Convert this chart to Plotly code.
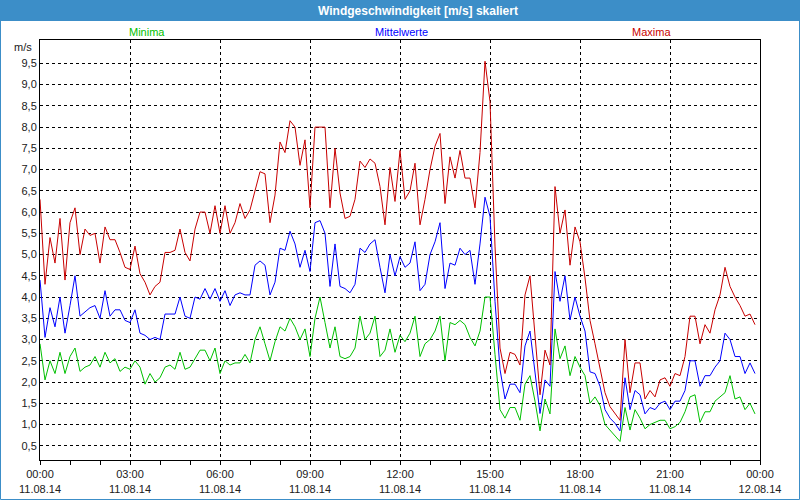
import plotly.graph_objects as go
import pandas as pd

maxima = [6.3, 4.3, 5.4, 4.8, 5.85, 4.4, 5.75, 6.1, 5.0, 5.6, 5.45, 5.5, 4.8, 5.65, 5.35, 5.35, 5.05, 4.7,
          4.65, 5.2, 4.55, 4.35, 4.05, 4.25, 4.35, 5.05, 5.05, 5.1, 5.6, 5.05, 4.85, 5.6, 6.0, 6.0, 5.5, 6.15,
          5.5, 6.15, 5.5, 5.75, 6.2, 5.85, 6.05, 6.5, 6.95, 6.9, 5.75, 6.4, 7.65, 7.4, 8.15, 8.0, 7.1, 7.7,
          6.1, 8.0, 8.0, 8.0, 6.1, 7.5, 6.45, 5.85, 5.9, 6.3, 7.2, 7.05, 7.25, 7.15, 6.6, 5.7, 7.05, 6.25,
          7.45, 6.3, 6.5, 7.15, 5.7, 6.3, 7.0, 7.55, 7.85, 6.2, 7.3, 6.8, 7.45, 6.8, 6.8, 6.1, 7.4, 9.55,
          8.6, 5.2, 2.8, 2.2, 2.7, 2.65, 2.4, 4.05, 4.5, 3.0, 1.7, 2.75, 2.4, 6.6, 5.5, 6.05, 4.75, 5.65,
          5.3, 4.45, 3.45, 2.9, 2.3, 1.75, 1.42, 1.26, 1.1, 3.0, 1.75, 2.45, 2.45, 1.6, 1.8, 1.65, 2.05, 2.1,
          1.9, 2.2, 2.15, 2.6, 3.55, 3.55, 2.9, 3.35, 3.15, 3.7, 4.05, 4.7, 4.25, 4.0, 3.8, 3.55, 3.6, 3.35]

mittel = [4.4, 3.05, 3.75, 3.3, 4.0, 3.15, 3.8, 4.5, 3.55, 3.65, 3.75, 3.8, 3.5, 4.15, 3.55, 3.7, 3.7, 3.45,
          3.4, 3.7, 3.15, 3.1, 3.0, 3.05, 3.0, 3.6, 3.6, 3.6, 4.0, 3.55, 3.5, 4.0, 3.95, 4.2, 3.95, 4.2,
          3.9, 4.15, 3.8, 4.05, 4.1, 4.05, 4.05, 4.75, 4.85, 4.75, 4.05, 4.35, 5.15, 5.1, 5.55, 5.25, 4.7, 5.1,
          4.6, 5.75, 5.8, 5.5, 4.25, 5.25, 4.25, 4.2, 4.1, 4.3, 5.15, 5.05, 5.25, 5.35, 4.7, 4.1, 5.0, 4.5,
          4.95, 4.7, 4.8, 5.3, 4.15, 4.3, 5.0, 5.3, 5.75, 4.2, 4.8, 4.75, 5.15, 5.0, 5.1, 4.3, 5.25, 6.35,
          5.9, 3.9, 2.3, 1.6, 1.95, 1.95, 1.75, 2.85, 3.2, 2.2, 1.26, 2.05, 1.9, 4.6, 3.9, 4.5, 3.46, 4.0,
          3.55, 3.2, 2.24, 2.2, 1.9, 1.35, 1.15, 1.03, 0.85, 2.1, 1.35, 1.8, 1.7, 1.25, 1.4, 1.35, 1.5, 1.55,
          1.35, 1.55, 1.55, 1.8, 2.5, 2.5, 1.9, 2.15, 2.15, 2.35, 2.5, 3.15, 3.0, 2.6, 2.6, 2.2, 2.45, 2.2]

minima = [2.9, 2.05, 2.5, 2.2, 2.7, 2.2, 2.6, 2.8, 2.25, 2.35, 2.4, 2.6, 2.35, 2.7, 2.45, 2.55, 2.25, 2.35,
          2.3, 2.5, 2.35, 1.95, 2.2, 2.0, 2.1, 2.35, 2.4, 2.3, 2.7, 2.3, 2.35, 2.55, 2.75, 2.75, 2.5, 2.8,
          2.2, 2.5, 2.4, 2.45, 2.45, 2.65, 2.45, 3.0, 3.3, 2.9, 2.5, 2.95, 3.3, 3.2, 3.5, 3.3, 3.0, 3.25,
          2.6, 3.5, 4.0, 3.4, 2.8, 3.3, 2.6, 2.55, 2.6, 2.8, 3.55, 3.0, 3.15, 3.55, 2.6, 2.75, 3.25, 2.7,
          3.1, 2.95, 3.15, 3.55, 2.6, 2.9, 3.0, 3.2, 3.55, 2.5, 3.4, 3.35, 3.45, 3.35, 3.05, 2.85, 3.2, 4.0,
          4.0, 2.65, 1.35, 1.15, 1.4, 1.4, 1.1, 1.95, 2.15, 1.55, 0.85, 1.6, 1.25, 3.25, 2.55, 2.85, 2.15, 2.6,
          2.35, 2.15, 1.5, 1.65, 1.45, 1.0, 0.87, 0.75, 0.6, 1.4, 0.87, 1.35, 1.15, 0.9, 1.0, 1.05, 1.1, 1.1,
          0.9, 0.95, 1.05, 1.3, 1.65, 1.7, 1.05, 1.3, 1.3, 1.55, 1.65, 1.75, 2.15, 1.6, 1.65, 1.35, 1.5, 1.25]

times = pd.date_range("2014-08-11 00:00", periods=len(maxima), freq="10min")

tick_hours = [0, 3, 6, 9, 12, 15, 18, 21, 24]
tick_labels = ["00:00<br>11.08.14", "03:00<br>11.08.14", "06:00<br>11.08.14", "09:00<br>11.08.14",
               "12:00<br>11.08.14", "15:00<br>11.08.14", "18:00<br>11.08.14", "21:00<br>11.08.14",
               "00:00<br>12.08.14"]
y_ticks = [0.5, 1.0, 1.5, 2.0, 2.5, 3.0, 3.5, 4.0, 4.5, 5.0, 5.5, 6.0, 6.5, 7.0, 7.5, 8.0, 8.5, 9.0, 9.5]

RED = "#c80000"
BLUE = "#0000ff"
GREEN = "#00c000"
FRAME = "#3c8ec8"
FONT = "Liberation Sans"

start = pd.Timestamp("2014-08-11 00:00")
tickvals = [start + pd.Timedelta(hours=h) for h in tick_hours]

fig = go.Figure()
for vals, col, name in [(minima, GREEN, "Minima"), (mittel, BLUE, "Mittelwerte"), (maxima, RED, "Maxima")]:
    fig.add_trace(go.Scatter(x=times, y=vals, mode="lines", name=name,
                             line=dict(color=col, width=1), hoverinfo="skip"))

L, R, T, B = 40, 40, 40, 40
W, H = 800, 500
PW, PH = W - L - R, H - T - B


def px(x):
    return (x - L) / PW


def py(y):
    return (H - B - y) / PH


fig.update_layout(
    width=W, height=H,
    margin=dict(l=L, r=R, t=T, b=B, autoexpand=False),
    paper_bgcolor="white", plot_bgcolor="white",
    showlegend=False,
    separators=",.",
    font=dict(family=FONT, size=11, color="#202020"),
    xaxis=dict(
        type="date",
        range=[start, start + pd.Timedelta(hours=24)],
        tickmode="array", tickvals=tickvals, ticktext=tick_labels,
        showgrid=True, gridcolor="black", gridwidth=1, griddash="3px,3px",
        showline=True, linecolor="black", linewidth=1, mirror=True,
        ticks="outside", ticklen=4, tickcolor="black",
        minor=dict(dtick=3600000, ticks="outside", ticklen=4, tickcolor="black", showgrid=False),
        zeroline=False, automargin=False,
        tickfont=dict(family=FONT, size=11, color="#202020"),
    ),
    yaxis=dict(
        range=[0.165, 10.05],
        tickmode="array", tickvals=y_ticks, tickformat=".1f",
        showgrid=True, gridcolor="black", gridwidth=1, griddash="3px,3px",
        showline=True, linecolor="black", linewidth=1, mirror=True,
        ticks="", zeroline=False, automargin=False,
        tickfont=dict(family=FONT, size=11, color="#202020"),
    ),
    shapes=[
        dict(type="rect", xref="paper", yref="paper", x0=px(0), x1=px(W), y0=py(21), y1=py(0),
             fillcolor=FRAME, line=dict(width=0), layer="above"),
        dict(type="rect", xref="paper", yref="paper", x0=px(0.5), x1=px(W - 0.5), y0=py(H - 0.5), y1=py(0.5),
             line=dict(color=FRAME, width=1), layer="above"),
    ],
    annotations=[
        dict(text="<b>Windgeschwindigkeit [m/s] skaliert</b>", xref="paper", yref="paper",
             x=px(418), y=py(11), showarrow=False, xanchor="center", yanchor="middle",
             font=dict(family=FONT, size=12, color="white")),
        dict(text="Minima", xref="paper", yref="paper", x=px(147), y=py(32), showarrow=False,
             xanchor="center", yanchor="middle", font=dict(family=FONT, size=11, color=GREEN)),
        dict(text="Mittelwerte", xref="paper", yref="paper", x=px(401), y=py(32), showarrow=False,
             xanchor="center", yanchor="middle", font=dict(family=FONT, size=11, color=BLUE)),
        dict(text="Maxima", xref="paper", yref="paper", x=px(651), y=py(32), showarrow=False,
             xanchor="center", yanchor="middle", font=dict(family=FONT, size=11, color=RED)),
        dict(text="m/s", xref="paper", yref="paper", x=px(23), y=py(47), showarrow=False,
             xanchor="center", yanchor="middle", font=dict(family=FONT, size=11, color="#202020")),
    ],
)

fig.write_html("out.html", config={"displayModeBar": False},
               post_script="document.body.style.margin='0px';document.body.style.overflow='hidden';")
